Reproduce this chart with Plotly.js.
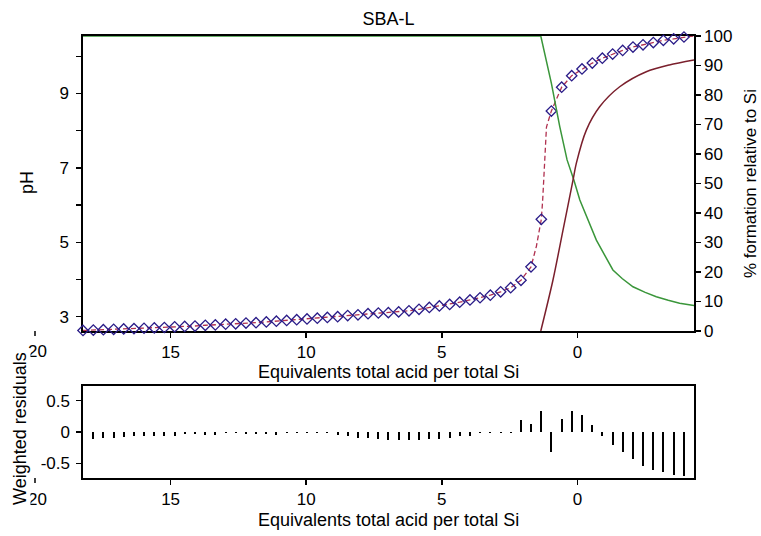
<!DOCTYPE html>
<html>
<head>
<meta charset="utf-8">
<script src="https://cdn.plot.ly/plotly-3.0.1.min.js"></script>
<style>
html,body{margin:0;padding:0;background:#fff;}
#chart{width:761px;height:536px;}
</style>
</head>
<body>
<div id="chart"></div>
<script>
// ---- data ----
const eqAcid = [18.23, 17.85, 17.48, 17.10, 16.73, 16.35, 15.98, 15.60, 15.23, 14.85,
  14.48, 14.10, 13.72, 13.35, 12.97, 12.60, 12.22, 11.85, 11.47, 11.10,
  10.72, 10.35, 9.97, 9.59, 9.22, 8.84, 8.47, 8.09, 7.72, 7.34,
  6.97, 6.59, 6.21, 5.84, 5.46, 5.09, 4.71, 4.34, 3.96, 3.59,
  3.21, 2.83, 2.46, 2.08, 1.71, 1.33, 0.96, 0.58, 0.21, -0.17,
  -0.55, -0.92, -1.30, -1.67, -2.05, -2.42, -2.80, -3.17, -3.55, -3.93, -4.30];

const pHmeasured = [2.63, 2.64, 2.65, 2.66, 2.67, 2.68, 2.69, 2.70, 2.71, 2.73,
  2.74, 2.75, 2.77, 2.78, 2.80, 2.81, 2.83, 2.84, 2.86, 2.88,
  2.90, 2.92, 2.94, 2.96, 2.98, 3.00, 3.03, 3.05, 3.08, 3.10,
  3.11, 3.13, 3.16, 3.20, 3.25, 3.29, 3.33, 3.39, 3.45, 3.51,
  3.58, 3.67, 3.78, 3.98, 4.34, 5.62, 8.53, 9.17, 9.48, 9.66,
  9.82, 9.95, 10.06, 10.16, 10.25, 10.31, 10.37, 10.43, 10.47, 10.52, 10.55];

const fitX = [18.23, 17.85, 17.48, 17.10, 16.73, 16.35, 15.98, 15.60, 15.23, 14.85,
  14.48, 14.10, 13.72, 13.35, 12.97, 12.60, 12.22, 11.85, 11.47, 11.10,
  10.72, 10.35, 9.97, 9.59, 9.22, 8.84, 8.47, 8.09, 7.72, 7.34,
  6.97, 6.59, 6.21, 5.84, 5.46, 5.09, 4.71, 4.34, 3.96, 3.59,
  3.21, 2.83, 2.46, 2.08, 1.71, 1.51, 1.33, 1.28, 1.20, 1.14, 0.96, 0.58, 0.21, -0.17,
  -0.55, -0.92, -1.30, -1.67, -2.05, -2.42, -2.80, -3.17, -3.55, -3.93, -4.30];
const fitPH = [2.63, 2.64, 2.65, 2.66, 2.67, 2.68, 2.69, 2.70, 2.71, 2.73,
  2.74, 2.75, 2.77, 2.78, 2.80, 2.81, 2.83, 2.84, 2.86, 2.88,
  2.90, 2.92, 2.94, 2.96, 2.98, 3.00, 3.03, 3.05, 3.08, 3.10,
  3.11, 3.13, 3.16, 3.20, 3.25, 3.29, 3.33, 3.39, 3.45, 3.51,
  3.58, 3.67, 3.78, 3.98, 4.34, 4.90, 5.62, 6.13, 7.30, 8.10, 8.53, 9.17, 9.48, 9.66,
  9.82, 9.95, 10.06, 10.16, 10.25, 10.31, 10.37, 10.43, 10.47, 10.52, 10.55];

const greenX = [18.23, 1.35, 0.96, 0.65, 0.38, 0.13, -0.09, -0.38, -0.70, -1.00,
  -1.31, -1.65, -2.05, -2.50, -2.91, -3.35, -3.77, -4.30];
const greenPct = [100, 100, 84, 69.3, 58, 51.2, 44.4, 38, 30.8, 25.8,
  20.7, 17.8, 15.0, 13.1, 11.6, 10.4, 9.4, 8.6];

const maroonX = [1.35, 0.90, 0.53, 0.16, 0.04, -0.33, -0.82, -1.56, -2.54, -3.39, -4.30];
const maroonPct = [0, 17.3, 34.2, 51.2, 56.8, 68.1, 76.0, 82.8, 87.9, 90.2, 91.9];

const residuals = [null, -0.11, -0.10, -0.09, -0.08, -0.07, -0.065, -0.06, -0.065, -0.06,
  -0.03, -0.03, -0.04, -0.04, -0.02, -0.015, -0.03, -0.03, -0.025, -0.04,
  -0.02, -0.02, -0.02, -0.02, -0.02, -0.04, -0.07, -0.09, -0.10, -0.11,
  -0.12, -0.12, -0.12, -0.12, -0.11, -0.11, -0.10, -0.07, -0.06, -0.02,
  -0.02, -0.02, -0.02, 0.19, 0.13, 0.34, -0.32, 0.20, 0.34, 0.27,
  0.11, -0.07, -0.21, -0.32, -0.43, -0.54, -0.60, -0.64, -0.68, -0.70, null];

const xTicks = [15, 10, 5, 0];
const pHTicks = [3, 4, 5, 6, 7, 8, 9, 10];
const pHTickText = ['3', '', '5', '', '7', '', '9', ''];
const pctTicks = [0, 10, 20, 30, 40, 50, 60, 70, 80, 90, 100];
const resTicks = [-0.5, 0, 0.5];
const resTickText = ['-0.5', '0', '0.5'];

// ---- layout helpers ----
const W = 761, H = 536, ML = 83, MR = 67, MT = 36, MB = 58;
const PW = W - ML - MR, PH = H - MT - MB;
const fx = p => (p - ML) / PW;
const fy = p => (H - MB - p) / PH;
const xRange = [18.23, -4.30];
const xPaper = v => (xRange[0] - v) / (xRange[0] - xRange[1]);

const FAM = 'Liberation Sans, Arial, sans-serif';
const TICKFONT = {family: FAM, size: 17, color: '#000'};
const TITLEFONT = {family: FAM, size: 18, color: '#000'};
const RTITLEFONT = {family: FAM, size: 17, color: '#000'};
const black = '#000';

const traces = [
  {x: fitX, y: fitPH, type: 'scatter', mode: 'lines', xaxis: 'x', yaxis: 'y',
   line: {color: '#b0304f', width: 1.3, dash: '5px,3px'}, hoverinfo: 'skip'},
  {x: eqAcid, y: pHmeasured, type: 'scatter', mode: 'markers', xaxis: 'x', yaxis: 'y',
   cliponaxis: false,
   marker: {symbol: 'diamond-open', size: 8, color: '#2a1c88', line: {width: 1.3, color: '#2a1c88'}}},
  {x: greenX, y: greenPct, type: 'scatter', mode: 'lines', xaxis: 'x', yaxis: 'y2',
   line: {color: '#3a963a', width: 1.5}},
  {x: maroonX, y: maroonPct, type: 'scatter', mode: 'lines', xaxis: 'x', yaxis: 'y2',
   line: {color: '#7a1f2c', width: 1.5, shape: 'spline', smoothing: 0.8}},
  {x: eqAcid, y: residuals, type: 'bar', xaxis: 'x2', yaxis: 'y3', base: 0,
   width: 0.075, marker: {color: black, line: {width: 0}}}
];

const axisCommon = {
  showline: true, linecolor: black, linewidth: 1.6,
  ticks: 'outside', ticklen: 5, tickwidth: 1.5, tickcolor: black,
  showgrid: false, zeroline: false, tickfont: TICKFONT, fixedrange: true
};

const layout = {
  width: W, height: H,
  margin: {l: ML, r: MR, t: MT, b: MB, pad: 0},
  paper_bgcolor: '#fff', plot_bgcolor: '#fff',
  showlegend: false,
  font: TICKFONT,
  bargap: 0,
  title: {text: 'SBA-L', font: TITLEFONT, x: fx(388.5), xref: 'paper', xanchor: 'center',
          y: 1 - 19 / H, yref: 'container', yanchor: 'middle'},
  xaxis: Object.assign({}, axisCommon, {
    domain: [0, 1], anchor: 'y', range: xRange, autorange: false,
    tickvals: xTicks, ticktext: xTicks.map(String), mirror: true, layer: 'below traces'
  }),
  yaxis: Object.assign({}, axisCommon, {
    domain: [fy(331), 1], anchor: 'x', range: [2.616, 10.547], autorange: false,
    tickvals: pHTicks, ticktext: pHTickText, ticklabelstandoff: 4, layer: 'below traces'
  }),
  yaxis2: Object.assign({}, axisCommon, {
    overlaying: 'y', side: 'right', anchor: 'x', range: [0, 100], autorange: false,
    tickvals: pctTicks, ticktext: pctTicks.map(String), layer: 'below traces', ticklabelstandoff: 0
  }),
  xaxis2: Object.assign({}, axisCommon, {
    domain: [0, 1], anchor: 'y3', range: xRange, autorange: false,
    tickvals: xTicks, ticktext: xTicks.map(String), mirror: true
  }),
  yaxis3: Object.assign({}, axisCommon, {
    domain: [0, fy(386)], anchor: 'x2', range: [-0.735, 0.735], autorange: false,
    tickvals: resTicks, ticktext: resTickText, mirror: true, ticklabelstandoff: 3
  }),
  shapes: [
    {type: 'line', xref: 'paper', yref: 'paper', x0: xPaper(20), x1: xPaper(20),
     y0: fy(331), y1: fy(336), line: {color: black, width: 1.5}},
    {type: 'line', xref: 'paper', yref: 'paper', x0: xPaper(20), x1: xPaper(20),
     y0: fy(478), y1: fy(483), line: {color: black, width: 1.5}}
  ],
  annotations: [
    {text: '20', xref: 'paper', yref: 'paper', x: xPaper(20) + 3 / PW, y: fy(351.5),
     xanchor: 'center', yanchor: 'middle', showarrow: false, font: TICKFONT},
    {text: '20', xref: 'paper', yref: 'paper', x: xPaper(20) + 3 / PW, y: fy(499),
     xanchor: 'center', yanchor: 'middle', showarrow: false, font: TICKFONT},
    {text: 'Equivalents total acid per total Si', xref: 'paper', yref: 'paper',
     x: fx(388.5), y: fy(372), xanchor: 'center', yanchor: 'middle', showarrow: false, font: TITLEFONT},
    {text: 'Equivalents total acid per total Si', xref: 'paper', yref: 'paper',
     x: fx(388.5), y: fy(520), xanchor: 'center', yanchor: 'middle', showarrow: false, font: TITLEFONT},
    {text: 'pH', xref: 'paper', yref: 'paper', x: fx(27), y: fy(183), textangle: -90,
     xanchor: 'center', yanchor: 'middle', showarrow: false, font: TITLEFONT},
    {text: '% formation relative to Si', xref: 'paper', yref: 'paper', x: fx(750), y: fy(184),
     textangle: -90, xanchor: 'center', yanchor: 'middle', showarrow: false, font: RTITLEFONT},
    {text: 'Weighted residuals', xref: 'paper', yref: 'paper', x: fx(20), y: fy(429),
     textangle: -90, xanchor: 'center', yanchor: 'middle', showarrow: false, font: TITLEFONT,
     bgcolor: '#fff', borderpad: 0}
  ]
};

Plotly.newPlot('chart', traces, layout, {staticPlot: true, displayModeBar: false});
</script>
</body>
</html>
